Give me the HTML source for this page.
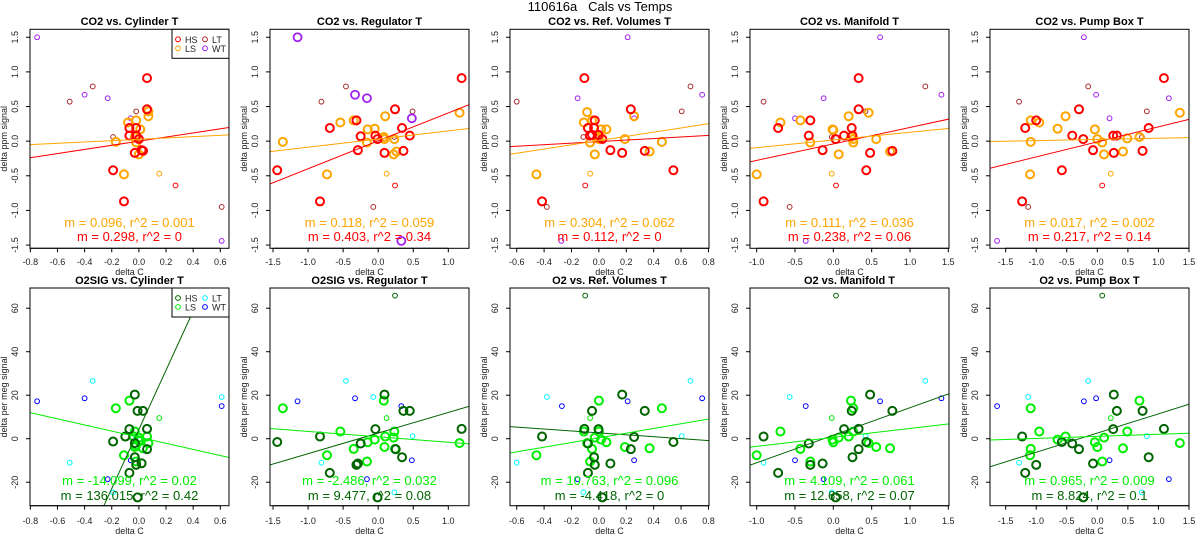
<!DOCTYPE html>
<html><head><meta charset="utf-8"><style>
html,body{margin:0;padding:0;background:#fff;width:1200px;height:550px;overflow:hidden;position:relative;}
svg{display:block;position:absolute;left:0;top:0;font-family:"Liberation Sans",sans-serif;overflow:hidden;}
</style></head><body><svg id="chart" width="1200" height="550" viewBox="0 0 1200 550">
<text x="600" y="11" text-anchor="middle" font-size="13" fill="#000">110616a&#160;&#160;&#160;Cals vs Temps</text>
</svg><script>
// ---- top row (CO2) data ----
const co2CylHS=[[0.06,0.91],[0.06,0.46],[-0.07,0.19],[-0.02,0.19],[-0.07,0.08],[-0.02,0.08],[0,0.03],[-0.03,-0.17],[0.02,-0.13],[-0.19,-0.42],[-0.11,-0.87],[0.03,-0.14]];
const co2CylLS=[[-0.17,-0.01],[-0.11,-0.48],[-0.08,0.27],[-0.02,0.3],[0.01,0.17],[-0.02,0.06],[-0.02,-0.02],[0,-0.19],[0.07,0.36],[0.07,0.43],[-0.03,0.06],[0.03,-0.14]];
const co2CylHSs=[[0.27,-0.64]];
const co2CylLSs=[[0.15,-0.47]];
const co2CylLT=[[-0.51,0.57],[-0.34,0.79],[-0.19,0.06],[-0.02,0.43],[0.61,-0.95]];
const co2CylWT=[[-0.75,1.5],[-0.40,0.67],[-0.23,0.62],[-0.06,0.33],[0.61,-1.44]];
const co2CylFit=[[0.298,0],[0.096,0.027]];

const co2RegHS=[[-1.44,-0.42],[-0.83,-0.87],[-0.69,0.19],[-0.31,0.30],[-0.25,0.07],[-0.29,-0.13],[-0.04,0.08],[-0.01,0.03],[0.09,-0.17],[0.24,0.46],[0.34,0.19],[0.36,-0.14],[0.45,0.08],[1.19,0.91]];
const co2RegLS=[[-1.36,-0.01],[-0.73,-0.48],[-0.54,0.27],[-0.35,0.30],[-0.15,0.17],[-0.05,0.18],[0.08,0.06],[0.09,0.03],[-0.16,-0.02],[0.23,0.03],[0.22,-0.19],[0.26,-0.15],[0.10,0.36],[1.16,0.41]];
const co2RegHSs=[[0.24,-0.64]];
const co2RegLSs=[[0.12,-0.47]];
const co2RegLT=[[-0.81,0.57],[-0.46,0.79],[0.23,0.06],[0.49,0.43],[-0.07,-0.95]];
const co2RegWT=[[-1.15,1.5],[-0.33,0.67],[-0.16,0.62],[0.48,0.33],[0.33,-1.44]];
const co2RegFit=[[0.403,0.005],[0.118,0.03]];

const co2RefHS=[[-0.106,0.91],[-0.08,0.19],[-0.035,0.19],[-0.03,0.30],[-0.066,0.08],[-0.05,0.09],[-0.003,0.09],[0.025,0.03],[0.084,-0.13],[0.17,-0.17],[0.233,0.46],[0.335,-0.14],[0.544,-0.42],[-0.415,-0.87]];
const co2RefLS=[[-0.456,-0.48],[-0.11,0.27],[-0.086,0.42],[-0.05,0.30],[-0.064,-0.02],[0,0.06],[0,0.03],[0.016,0.17],[0.055,0.17],[-0.03,-0.19],[0.19,0.03],[0.257,0.36],[0.37,-0.15],[0.46,-0.01]];
const co2RefHSs=[[-0.1,-0.64]];
const co2RefLSs=[[-0.064,-0.47]];
const co2RefLT=[[-0.6,0.57],[-0.113,0.06],[0.605,0.43],[0.669,0.79],[-0.38,-0.95]];
const co2RefWT=[[0.21,1.5],[-0.155,0.62],[0.257,0.33],[0.754,0.67],[-0.274,-1.44]];
const co2RefFit=[[0.112,-0.007],[0.304,0.008]];

const co2ManHS=[[-0.72,0.19],[-0.91,-0.87],[-0.3,0.30],[-0.32,0.08],[-0.14,-0.13],[0.03,0.03],[0.14,0.08],[0.24,0.19],[0.25,0.08],[0.33,0.91],[0.33,0.46],[0.43,-0.42],[0.48,-0.17],[0.77,-0.14]];
const co2ManLS=[[-1,-0.48],[-0.69,0.27],[-0.43,0.30],[-0.3,-0.02],[-0.01,0.17],[0,0.16],[0.07,-0.19],[0.2,0.36],[0.23,0.06],[0.26,0.03],[0.26,-0.02],[0.46,0.41],[0.56,0.03],[0.74,-0.15]];
const co2ManHSs=[[0.035,-0.64]];
const co2ManLSs=[[-0.02,-0.47]];
const co2ManLT=[[-0.91,0.57],[-0.02,0.06],[0.42,0.43],[1.2,0.79],[-0.57,-0.95]];
const co2ManWT=[[0.61,1.5],[-0.126,0.62],[-0.5,0.33],[1.41,0.67],[-0.36,-1.44]];
const co2ManFit=[[0.238,-0.04],[0.111,0.017]];

const co2PumpHS=[[-1.18,0.19],[-1.0,0.3],[-1.23,-0.87],[-0.58,-0.42],[-0.41,0.08],[-0.3,0.46],[-0.23,0.03],[-0.07,-0.13],[0.26,0.08],[0.32,0.08],[0.27,-0.17],[0.74,-0.14],[0.84,0.19],[1.09,0.91]];
const co2PumpLS=[[-1.09,0.3],[-0.95,0.27],[-1.09,-0.01],[-1.1,-0.48],[-0.65,0.18],[-0.52,0.36],[-0.04,0.17],[0,0.03],[0.08,-0.02],[0.11,-0.19],[0.42,-0.15],[0.49,0.04],[0.69,0.06],[1.35,0.41]];
const co2PumpHSs=[[0.08,-0.64]];
const co2PumpLSs=[[0.22,-0.47]];
const co2PumpLT=[[-1.28,0.57],[-0.15,0.79],[0.81,0.43],[0.73,0.06],[-1.13,-0.95]];
const co2PumpWT=[[-0.22,1.5],[-0.02,0.67],[0.2,0.33],[1.17,0.62],[-1.64,-1.44]];
const co2PumpFit=[[0.217,-0.01],[0.017,0.025]];

// ---- bottom row (O2) data ----
const o2CylHS=[[-0.03,20.3],[-0.01,12.8],[0.03,12.8],[-0.07,4.4],[-0.1,1],[-0.19,-1.3],[-0.03,-2],[0.06,4.5],[0.06,-4.8],[-0.03,-8.5],[-0.02,-12],[0.02,-11.3],[-0.07,-15.7],[-0.01,-27]];
const o2CylLS=[[-0.17,14],[-0.07,17.5],[-0.11,-7.6],[-0.03,3.3],[-0.03,-3.8],[0,0.5],[0.01,-0.8],[0.03,-4.4],[0.06,1],[0.07,-2],[-0.02,-10.5],[-0.02,-3],[0,-1],[-0.04,1.1]];
const o2CylHSs=[[0.27,65.8]];
const o2CylLSs=[[0.15,9.5]];
const o2CylLT=[[-0.51,-11],[-0.34,26.6],[-0.19,-24.7],[-0.02,1],[0.61,19.2]];
const o2CylWT=[[-0.75,17.2],[-0.40,18.6],[-0.23,-18.6],[-0.06,-9.9],[0.61,15]];
const o2CylFit=[[136.015,4.3],[-14.099,0.7]];

const o2RegHS=[[-1.44,-1.5],[-0.83,1],[-0.69,-15.7],[-0.31,-12],[-0.29,-11.4],[-0.25,-2.2],[-0.04,4.4],[-0.01,-27],[0.09,20.3],[0.34,-8.5],[0.36,12.8],[0.45,12.8],[1.19,4.5],[0.25,-4.8]];
const o2RegLS=[[-1.36,14],[-0.73,-7.6],[-0.54,3.3],[-0.35,-4.7],[-0.15,-1.6],[-0.16,-10.5],[-0.05,-0.4],[0.08,17.5],[0.09,-3.8],[0.10,1],[0.23,3.3],[0.22,0.5],[0.24,-4.7],[1.16,-2]];
const o2RegHSs=[[0.24,65.8]];
const o2RegLSs=[[0.12,9.5]];
const o2RegLT=[[-0.81,-11],[-0.46,26.6],[0.23,-24.7],[0.49,1.2],[-0.07,19.2]];
const o2RegWT=[[-1.15,17.2],[-0.33,18.6],[-0.16,-18.6],[0.48,-9.9],[0.33,15]];
const o2RegFit=[[9.477,2.6],[-2.486,0.87]];

const o2RefHS=[[-0.415,1],[-0.106,4.5],[-0.08,-2.2],[-0.05,12.8],[-0.003,4.4],[-0.035,-8.5],[-0.03,-12],[-0.08,-15.7],[0.025,-27],[0.084,-11.4],[0.17,20.3],[0.233,-4.8],[0.257,0.8],[0.335,12.8],[0.544,-1.5]];
const o2RefLS=[[-0.456,-7.6],[-0.11,3.3],[-0.086,-2],[-0.05,-4.7],[-0.064,-10.5],[-0.03,0.5],[0,17.5],[0,3.3],[0.016,-0.4],[0.055,-1.6],[0.19,-3.8],[0.46,14],[0.37,-4.4]];
const o2RefHSs=[[-0.1,65.8]];
const o2RefLSs=[[-0.064,9.5]];
const o2RefLT=[[-0.6,-11],[-0.38,19.2],[0.669,26.6],[0.605,1.2],[-0.113,-24.7]];
const o2RefWT=[[-0.27,15],[0.21,17.2],[0.754,18.6],[0.257,-9.9],[-0.155,-18.6]];
const o2RefFit=[[-4.418,2.7],[10.763,0.4]];

const o2ManHS=[[-0.91,1],[-0.72,-15.7],[-0.32,-2.2],[-0.3,-12],[-0.14,-11.4],[0.14,4.4],[0.24,12.8],[0.25,-8.5],[0.33,4.5],[0.33,-4.8],[0.43,-1.5],[0.48,20.3],[0.77,12.8],[0.03,-27]];
const o2ManLS=[[-1,-7.6],[-0.69,3.3],[-0.43,-4.7],[-0.3,-10.5],[-0.01,-0.4],[0,-1.6],[0.07,0.5],[0.2,1],[0.23,17.5],[0.26,14],[0.26,3.3],[0.46,-2],[0.56,-3.8],[0.74,-4.4]];
const o2ManHSs=[[0.035,65.8]];
const o2ManLSs=[[-0.02,9.5]];
const o2ManLT=[[-0.91,-11],[-0.57,19.2],[-0.02,-24.7],[0.42,1.2],[1.2,26.6]];
const o2ManWT=[[-0.5,-9.9],[-0.36,15],[-0.126,-18.6],[0.61,17.2],[1.41,18.6]];
const o2ManFit=[[12.658,1.6],[4.109,0.6]];

const o2PumpHS=[[-1.23,1],[-1.18,-15.7],[-1.0,-12],[-0.58,-1.5],[-0.41,-2.2],[-0.3,-4.8],[-0.23,-27],[-0.07,-11.4],[0.26,4.4],[0.27,20.3],[0.32,12.8],[0.74,12.8],[0.84,-8.5],[1.09,4.5]];
const o2PumpLS=[[-1.09,14],[-0.95,3.3],[-1.09,-4.7],[-1.1,-7.6],[-0.65,-0.4],[-0.52,1],[-0.04,-1.6],[0,-3.8],[0.08,-10.5],[0.11,0.5],[0.42,-4.4],[0.49,3.3],[0.69,17.5],[1.35,-2]];
const o2PumpHSs=[[0.08,65.8]];
const o2PumpLSs=[[0.22,9.5]];
const o2PumpLT=[[-1.28,-11],[-1.13,19.2],[-0.15,26.6],[0.81,1.2],[0.73,-24.7]];
const o2PumpWT=[[-1.64,15],[-0.22,17.2],[-0.02,18.6],[0.2,-9.9],[1.17,-18.6]];
const o2PumpFit=[[8.824,2.6],[0.965,1.09]];

// tick labels
const xTicksCyl=[-0.8,-0.6,-0.4,-0.2,0.0,0.2,0.4,0.6];
const xTicksReg=[-1.5,-1.0,-0.5,0.0,0.5,1.0];
const xTicksRef=[-0.6,-0.4,-0.2,0.0,0.2,0.4,0.6,0.8];
const xTicksMan=[-1.0,-0.5,0.0,0.5,1.0,1.5];
const xTicksPump=[-1.5,-1.0,-0.5,0.0,0.5,1.0,1.5];
const yTicksCO2=[-1.5,-1.0,-0.5,0.0,0.5,1.0,1.5];
const yTicksO2=[-20,0,20,40,60];
const co2Titles=["CO2 vs. Cylinder T","CO2 vs. Regulator T","CO2 vs. Ref. Volumes T","CO2 vs. Manifold T","CO2 vs. Pump Box T"];
const o2Titles=["O2SIG vs. Cylinder T","O2SIG vs. Regulator T","O2 vs. Ref. Volumes T","O2 vs. Manifold T","O2 vs. Pump Box T"];

const NS="http://www.w3.org/2000/svg";
const svg=document.getElementById('chart');
function mk(tag,attrs,parent){const e=document.createElementNS(NS,tag);for(const k in attrs)e.setAttribute(k,attrs[k]);(parent||svg).appendChild(e);return e;}

const xDomains=[[-0.8024,0.664],[-1.543,1.295],[-0.649,0.804],[-1.087,1.509],[-1.756,1.5]];
const xTicksAll=[xTicksCyl,xTicksReg,xTicksRef,xTicksMan,xTicksPump];
const rows=[
 {top:29.3,bot:248.3,ydom:[-1.547,1.615],yt:yTicksCO2,ylab:"delta ppm signal",titles:co2Titles,
  cols:["#ff0000","#ffa500","#a52a2a","#a020f0"],titleY:25,tickY:265,xlabY:275,annY:[227,241],
  data:[[co2CylHS,co2CylLS,co2CylHSs,co2CylLSs,co2CylLT,co2CylWT,co2CylFit],[co2RegHS,co2RegLS,co2RegHSs,co2RegLSs,co2RegLT,co2RegWT,co2RegFit],[co2RefHS,co2RefLS,co2RefHSs,co2RefLSs,co2RefLT,co2RefWT,co2RefFit],[co2ManHS,co2ManLS,co2ManHSs,co2ManLSs,co2ManLT,co2ManWT,co2ManFit],[co2PumpHS,co2PumpLS,co2PumpHSs,co2PumpLSs,co2PumpLT,co2PumpWT,co2PumpFit]],prefix:"co2"},
 {top:288,bot:505.7,ydom:[-30.8,69.3],yt:yTicksO2,ylab:"delta per meg signal",titles:o2Titles,
  cols:["#006400","#00ee00","#00ffff","#0000ff"],titleY:284,tickY:524,xlabY:534,annY:[485,500],
  data:[[o2CylHS,o2CylLS,o2CylHSs,o2CylLSs,o2CylLT,o2CylWT,o2CylFit],[o2RegHS,o2RegLS,o2RegHSs,o2RegLSs,o2RegLT,o2RegWT,o2RegFit],[o2RefHS,o2RefLS,o2RefHSs,o2RefLSs,o2RefLT,o2RefWT,o2RefFit],[o2ManHS,o2ManLS,o2ManHSs,o2ManLSs,o2ManLT,o2ManWT,o2ManFit],[o2PumpHS,o2PumpLS,o2PumpHSs,o2PumpLSs,o2PumpLT,o2PumpWT,o2PumpFit]],prefix:"o2"}
];
const fmt=v=>{let s=(Math.abs(v)<1e-9?0:v).toFixed(1);return s;};

rows.forEach((row,ri)=>{
 for(let c=0;c<5;c++){
  const L=240*c+30,R=240*c+229,T=row.top,B=row.bot;
  const xd=xDomains[c];
  const sx=v=>L+(v-xd[0])/(xd[1]-xd[0])*(R-L);
  const sy=v=>B-(v-row.ydom[0])/(row.ydom[1]-row.ydom[0])*(B-T);
  const g=mk('g',{});
  
  
  const cid='clip'+ri+c;
  const cp=mk('clipPath',{id:cid},g);mk('rect',{x:L,y:T,width:R-L,height:B-T},cp);
  const tt=mk('text',{x:(L+R)/2,y:row.titleY,'text-anchor':'middle','font-size':11,'font-weight':'bold'},g);
  tt.textContent=row.titles[c];
  
  
  const xt=xTicksAll[c];
  const xa=mk('g',{},g);
  
  
  mk('line',{x1:sx(xt[0]),x2:sx(xt[xt.length-1]),y1:B,y2:B,stroke:'#000','stroke-width':1},xa);
  xt.forEach(v=>{
   mk('line',{x1:sx(v),x2:sx(v),y1:B,y2:B+4,stroke:'#000'},xa);
   const t=mk('text',{x:sx(v),y:row.tickY,'text-anchor':'middle','font-size':9,fill:'#222'},xa);t.textContent=fmt(v);
   
   
  });
  const xl=mk('text',{x:(L+R)/2,y:row.xlabY,'text-anchor':'middle','font-size':9,fill:'#222'},g);xl.textContent='delta C';
  
  
  const ya=mk('g',{},g);
  
  
  const yt=row.yt;
  mk('line',{x1:L,x2:L,y1:sy(yt[0]),y2:sy(yt[yt.length-1]),stroke:'#000'},ya);
  yt.forEach(v=>{
   mk('line',{x1:L-4,x2:L,y1:sy(v),y2:sy(v),stroke:'#000'},ya);
   const t=mk('text',{x:L-12,y:sy(v),'text-anchor':'middle','font-size':9,fill:'#222',transform:`rotate(-90 ${L-12} ${sy(v)})`},ya);
   t.textContent=row.prefix==='co2'?fmt(v):String(v);
   
   
  });
  const yl=mk('text',{x:L-23,y:(T+B)/2,'text-anchor':'middle','font-size':9,fill:'#222',transform:`rotate(-90 ${L-23} ${(T+B)/2})`},g);yl.textContent=row.ylab;
  
  
  const d=row.data[c];
  const pg=mk('g',{'clip-path':`url(#${cid})`},g);
  
  
  const wtBig=(ri===0&&c===1);
  const specs=[[d[4],row.cols[2],2.4,1,'lt'],[d[5],row.cols[3],wtBig?4:2.4,wtBig?1.8:1,'wt'],[d[2],row.cols[0],2.4,1,'hs-small'],[d[3],row.cols[1],2.4,1,'ls-small'],[d[1],row.cols[1],4,2,'ls'],[d[0],row.cols[0],4,2,'hs']];
  specs.forEach(([arr,col,r,w,nm])=>arr.forEach(p=>{
   const ci=mk('circle',{cx:sx(p[0]),cy:sy(p[1]),r:r,fill:'none',stroke:col,'stroke-width':w},pg);
   
   
  }));
  const fits=d[6];
  [[fits[0],row.cols[0],'fit-hs'],[fits[1],row.cols[1],'fit-ls']].forEach(([f,col,nm])=>{
   // clip the segment to the plot's data window
   let xa0=xd[0],xa1=xd[1];
   if(f[0]!==0){
    const xAtLo=(row.ydom[0]-f[1])/f[0],xAtHi=(row.ydom[1]-f[1])/f[0];
    const lo=Math.min(xAtLo,xAtHi),hi=Math.max(xAtLo,xAtHi);
    xa0=Math.max(xa0,lo);xa1=Math.min(xa1,hi);
   }
   if(xa1<=xa0)return;
   const ln=mk('line',{x1:sx(xa0),y1:sy(f[1]+f[0]*xa0),x2:sx(xa1),y2:sy(f[1]+f[0]*xa1),stroke:col,'stroke-width':1,'clip-path':`url(#${cid})`},g);
   
   
  });
  const bx=mk('rect',{x:L,y:T,width:R-L,height:B-T,fill:'none',stroke:'#000','stroke-width':1},g);
  
  
  const anns=[[fits[1],row.cols[1],row.annY[0],'ls'],[fits[0],row.cols[0],row.annY[1],'hs']];
  const r2=[[["0.001","0.059","0.062","0.036","0.002"],["0","0.34","0","0.06","0.14"]],[["0.02","0.032","0.096","0.061","0.009"],["0.42","0.08","0","0.07","0.1"]]];
  anns.forEach(([f,col,yy,nm],k)=>{
   const t=mk('text',{x:(L+R)/2,y:yy,'text-anchor':'middle','font-size':13,fill:col},g);
   t.textContent='m = '+f[0]+', r^2 = '+r2[ri][k][c];
   
   
  });
  if(c===0){
   const lg=mk('g',{},g);
   
   
   mk('rect',{x:172,y:T,width:R-172,height:29,fill:'#fff',stroke:'#000'},lg);
   const ents=[['HS',row.cols[0],178,T+10],['LT',row.cols[2],205,T+10],['LS',row.cols[1],178,T+19],['WT',row.cols[3],205,T+19]];
   ents.forEach(([lab,col,x,y])=>{
    const e=mk('g',{},lg);
    
    
    mk('circle',{cx:x,cy:y,r:2.4,fill:'none',stroke:col,'stroke-width':1},e);
    const t=mk('text',{x:x+7,y:y+3.5,'font-size':9,fill:'#222'},e);t.textContent=lab;
   });
  }
 }
});
</script></body></html>
